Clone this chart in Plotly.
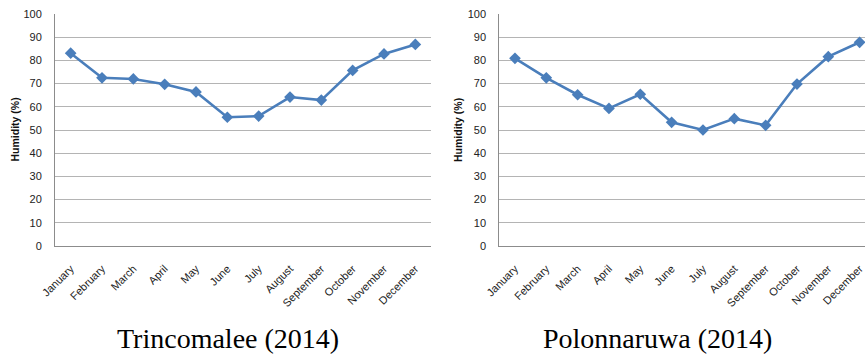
import plotly.graph_objects as go

months = ["January", "February", "March", "April", "May", "June", "July",
          "August", "September", "October", "November", "December"]
trincomalee = [83.1, 72.5, 72.0, 69.7, 66.4, 55.5, 56.0, 64.2, 62.9, 75.7, 82.8, 86.9]
polonnaruwa = [80.9, 72.5, 65.2, 59.3, 65.4, 53.3, 50.0, 54.9, 52.0, 69.8, 81.6, 87.8]
panel_titles = ["Trincomalee (2014)", "Polonnaruwa (2014)"]
y_ticks = list(range(0, 101, 10))

W, H = 865, 354
LINE = "#4a7ebb"
GRID = "#b4b4b4"
AXIS = "#8c8c8c"
SANS = "Liberation Sans, Arial, sans-serif"
TICKFONT = dict(family=SANS, size=11, color="#222222")

fig = go.Figure()

# panel pixel geometry: (left, right) of each plot area, shared top/bottom
panels = [(55, 431), (499.3, 865)]
top_px, bottom_px = 14, 246
step_px = (431 - 55) / 12.0
title_x_px = [228, 657]
ylabel_x_px = [14.5, 458]

for i, (series, (lpx, rpx)) in enumerate(zip([trincomalee, polonnaruwa], panels)):
    n = "" if i == 0 else str(i + 1)
    fig.add_trace(go.Scatter(
        x=list(range(len(months))), y=series,
        xaxis="x" + n, yaxis="y" + n,
        mode="lines+markers",
        line=dict(color=LINE, width=2.6),
        marker=dict(symbol="diamond", size=9, color=LINE),
        showlegend=False, hoverinfo="skip",
    ))
    x_hi = -0.5 + (rpx - lpx) / step_px
    fig.update_layout(**{
        "xaxis" + n: dict(
            domain=[lpx / W, rpx / W],
            range=[-0.5, x_hi],
            tickmode="array", tickvals=list(range(len(months))), ticktext=months,
            tickangle=-45, tickfont=dict(family=SANS, size=11, color="#222222"),
            ticklabeloverflow="allow", ticklabelstandoff=11,
            showgrid=False, zeroline=False,
            showline=True, linecolor=AXIS, linewidth=1,
            ticks="", anchor="y" + n, fixedrange=True, automargin=False,
        ),
        "yaxis" + n: dict(
            domain=[1 - bottom_px / H, 1 - top_px / H],
            range=[0, 100],
            tickmode="array", tickvals=y_ticks,
            tickfont=TICKFONT,
            showgrid=True, gridcolor=GRID, gridwidth=1,
            zeroline=False,
            showline=True, linecolor=AXIS, linewidth=1,
            ticks="", ticklabelstandoff=10,
            anchor="x" + n, fixedrange=True, automargin=False,
        ),
    })
    fig.add_annotation(
        text="<b>Humidity (%)</b>", xref="paper", yref="paper",
        x=ylabel_x_px[i] / W, y=1 - (top_px + bottom_px) / 2 / H,
        xanchor="center", yanchor="middle", textangle=-90, showarrow=False,
        font=dict(family=SANS, size=10.5, color="#111111"),
    )
    fig.add_annotation(
        text=panel_titles[i], xref="paper", yref="paper",
        x=title_x_px[i] / W, y=1 - 338 / H,
        xanchor="center", yanchor="middle", showarrow=False,
        font=dict(family="Liberation Serif, Times New Roman, serif", size=28, color="#000000"),
    )

fig.update_layout(
    width=W, height=H,
    margin=dict(l=0, r=0, t=0, b=0),
    paper_bgcolor="white", plot_bgcolor="white",
)

fig.write_html("out.html")
